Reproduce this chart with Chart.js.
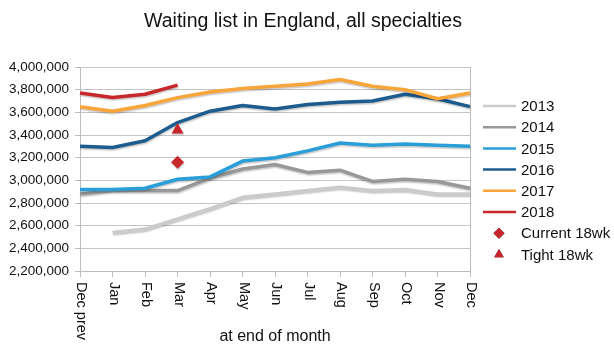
<!DOCTYPE html>
<html>
<head>
<meta charset="utf-8">
<script src="https://cdn.jsdelivr.net/npm/chart.js@4.4.1/dist/chart.umd.min.js"></script>
<style>
  html, body { margin: 0; background: #fff; }
  #wrap { position: relative; width: 614px; height: 351px; }
</style>
</head>
<body>
<div id="wrap"><canvas id="chart" width="614" height="351"></canvas></div>
<script>
const months = ['Dec prev', 'Jan', 'Feb', 'Mar', 'Apr', 'May', 'Jun', 'Jul', 'Aug', 'Sep', 'Oct', 'Nov', 'Dec'];

const y2013 = [null, 2540000, 2570000, 2660000, 2750000, 2850000, 2880000, 2910000, 2940000, 2910000, 2920000, 2880000, 2880000];
const y2014 = [2880000, 2910000, 2910000, 2910000, 3020000, 3100000, 3140000, 3070000, 3090000, 2990000, 3010000, 2990000, 2930000];
const y2015 = [2920000, 2920000, 2930000, 3010000, 3030000, 3170000, 3200000, 3260000, 3330000, 3310000, 3320000, 3310000, 3300000];
const y2016 = [3300000, 3290000, 3350000, 3510000, 3610000, 3660000, 3630000, 3670000, 3690000, 3700000, 3760000, 3720000, 3650000];
const y2017 = [3650000, 3610000, 3660000, 3730000, 3780000, 3810000, 3830000, 3850000, 3890000, 3830000, 3800000, 3720000, 3770000];
const y2018 = [3770000, 3730000, 3760000, 3840000, null, null, null, null, null, null, null, null, null];
const current18wk = [null, null, null, 3160000, null, null, null, null, null, null, null, null, null];
const tight18wk = [null, null, null, 3445000, null, null, null, null, null, null, null, null, null];

const yMin = 2200000;
const yMax = 4000000;
const yStep = 200000;

const FONT = '"Liberation Sans", Arial, Helvetica, sans-serif';
const RED = '#c8282b';

function lineSet(label, data, color, order) {
  return {
    label, data, order,
    borderColor: color,
    backgroundColor: color,
    borderWidth: 3.5,
    pointRadius: 0,
    pointHoverRadius: 0,
    borderJoinStyle: 'round',
    tension: 0,
    spanGaps: false
  };
}

function markerSet(label, data, style, radius) {
  return {
    label, data, order: 0,
    showLine: false,
    pointStyle: style,
    pointRadius: radius,
    pointBackgroundColor: RED,
    pointBorderColor: RED,
    borderColor: RED,
    backgroundColor: RED,
    pointBorderWidth: 0
  };
}

// soft shadow under the lines, like the original spreadsheet chart
const shadowPlugin = {
  id: 'shadow',
  beforeDatasetsDraw(chart) {
    const ctx = chart.ctx;
    ctx.save();
    ctx.shadowColor = 'rgba(0,0,0,0.22)';
    ctx.shadowBlur = 1.5;
    ctx.shadowOffsetX = 0.5;
    ctx.shadowOffsetY = 1.5;
  },
  afterDatasetsDraw(chart) {
    chart.ctx.restore();
  }
};

// title, rotated month labels (top to bottom) and axis title
const textPlugin = {
  id: 'texts',
  afterDraw(chart) {
    const ctx = chart.ctx;
    const area = chart.chartArea;
    const xs = chart.scales.x;
    ctx.save();
    ctx.fillStyle = '#111';
    ctx.font = '19.5px ' + FONT;
    ctx.textAlign = 'center';
    ctx.textBaseline = 'middle';
    ctx.fillText('Waiting list in England, all specialties', 303, 22);

    ctx.font = '14.5px ' + FONT;
    ctx.textAlign = 'left';
    months.forEach((m, i) => {
      const x = xs.getPixelForTick(i);
      ctx.save();
      ctx.translate(x + 1, area.bottom + 11);
      ctx.rotate(Math.PI / 2);
      ctx.fillText(m, 0, 0);
      ctx.restore();
    });

    ctx.font = '16px ' + FONT;
    ctx.textAlign = 'center';
    ctx.fillText('at end of month', (area.left + area.right) / 2, 337);
    ctx.restore();
  }
};

// legend drawn at the right, same styles as the datasets
const legendPlugin = {
  id: 'sideLegend',
  afterDraw(chart) {
    const ctx = chart.ctx;
    const sets = chart.data.datasets;
    const x0 = 483, y0 = 106, gap = 21.2;
    ctx.save();
    ctx.font = '15px ' + FONT;
    ctx.fillStyle = '#111';
    ctx.textBaseline = 'middle';
    ctx.textAlign = 'left';
    sets.forEach((ds, i) => {
      const y = y0 + i * gap;
      if (ds.showLine === false) {
        Chart.helpers.drawPoint(ctx, {
          pointStyle: ds.pointStyle, radius: 5.5, rotation: 0, borderWidth: 0
        }, x0 + 16, y);
        ctx.fillStyle = RED;
        ctx.fill();
        ctx.fillStyle = '#111';
      } else {
        ctx.strokeStyle = ds.borderColor;
        ctx.lineWidth = 2.5;
        ctx.beginPath();
        ctx.moveTo(x0, y);
        ctx.lineTo(x0 + 33, y);
        ctx.stroke();
      }
      ctx.fillText(ds.label, x0 + 38, y + 1);
    });
    ctx.restore();
  }
};

new Chart(document.getElementById('chart'), {
  type: 'line',
  data: {
    labels: months,
    datasets: [
      lineSet('2013', y2013, '#cbcbcb', 6),
      lineSet('2014', y2014, '#989898', 5),
      lineSet('2015', y2015, '#2a9ed8', 4),
      lineSet('2016', y2016, '#1c5c8e', 3),
      lineSet('2017', y2017, '#f8a53a', 2),
      lineSet('2018', y2018, RED, 1),
      markerSet('Current 18wk', current18wk, 'rectRot', 6.5),
      markerSet('Tight 18wk', tight18wk, 'triangle', 7)
    ]
  },
  options: {
    responsive: false,
    animation: false,
    layout: { padding: { top: 67, right: 144, bottom: 74, left: 3 } },
    plugins: {
      legend: { display: false },
      title: { display: false },
      tooltip: { enabled: false }
    },
    scales: {
      x: {
        offset: false,
        ticks: { display: false },
        grid: {
          color: ctx => (ctx.index === months.length - 1 ? '#bdbdbd' : 'rgba(0,0,0,0)'),
          tickColor: '#bdbdbd',
          tickLength: 6,
          lineWidth: 1
        },
        border: { color: '#bdbdbd', width: 1 }
      },
      y: {
        min: yMin,
        max: yMax,
        ticks: {
          stepSize: yStep,
          padding: 6,
          color: '#111',
          font: { family: FONT, size: 13.5 },
          callback: v => v.toLocaleString('en-US')
        },
        grid: { color: '#c4c4c4', tickLength: 5, tickColor: '#bdbdbd' },
        border: { color: '#bdbdbd', width: 1 }
      }
    }
  },
  plugins: [shadowPlugin, textPlugin, legendPlugin]
});
</script>
</body>
</html>
